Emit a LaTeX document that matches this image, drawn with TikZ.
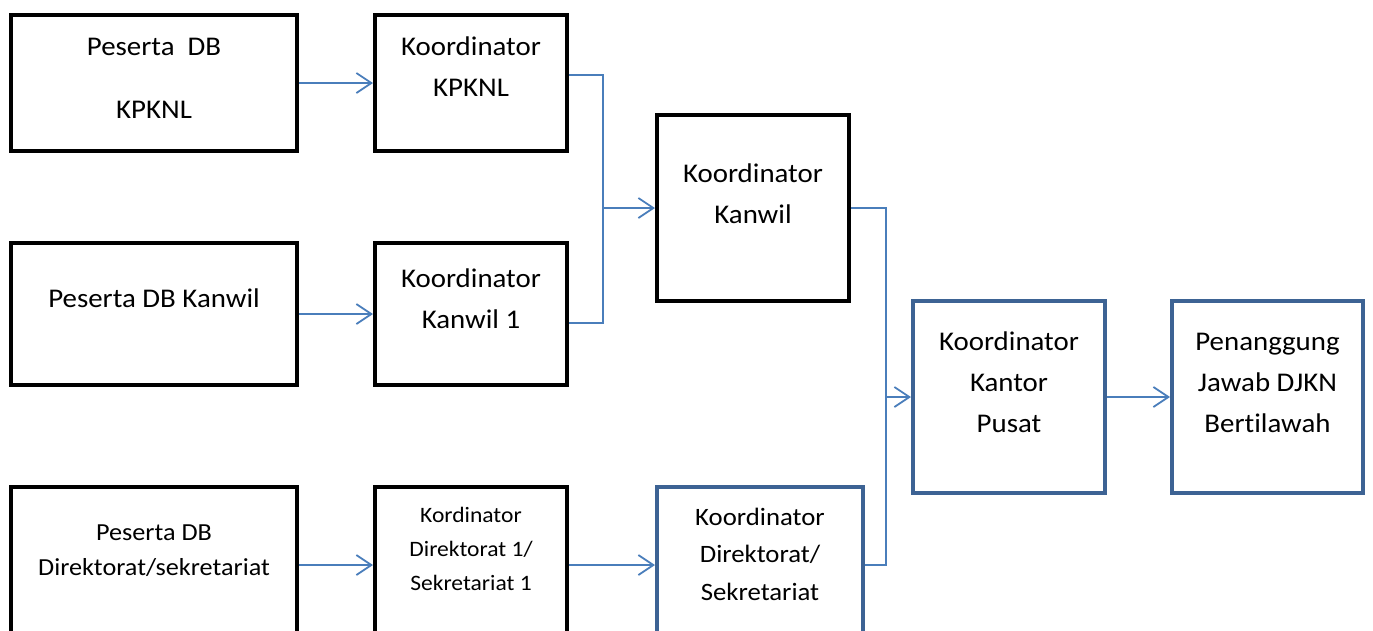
\documentclass[tikz,border=0pt]{standalone}
\usepackage{fontspec}
\setmainfont{Carlito}[FakeStretch=1.07, Ligatures=NoCommon]
\usetikzlibrary{arrows.meta,calc}
\definecolor{linkblue}{HTML}{4A7EBB}
\definecolor{boxblue}{HTML}{3D6394}
\begin{document}
\begin{tikzpicture}[x=1pt,y=-1pt,
  box/.style={draw=black, line width=4.3pt, inner sep=0pt, fill=white},
  bbox/.style={box, draw=boxblue},
  txt/.style={anchor=north, inner sep=0pt, align=center, text=black},
  big/.style={font=\fontsize{27}{41}\selectfont},
  conn/.style={draw=linkblue, line width=1.8pt},
  arr/.style={conn, -{Straight Barb[length=15pt,width=20pt]}}]
\useasboundingbox (0,0) rectangle (1373,630);
\clip (0,0) rectangle (1373,630);
\fill[white] (0,0) rectangle (1373,630);
% boxes
\node[box, minimum width=285.7pt, minimum height=135.7pt] (A) at (154,83) {};
\node[box, minimum width=191.7pt, minimum height=135.7pt] (B) at (471,83) {};
\node[box, minimum width=191.7pt, minimum height=185.7pt] (C) at (753,208) {};
\node[box, minimum width=285.7pt, minimum height=141.7pt] (D) at (154,314) {};
\node[box, minimum width=191.7pt, minimum height=141.7pt] (E) at (471,314) {};
\node[box, minimum width=285.7pt, minimum height=155.7pt] (F) at (154,565) {};
\node[box, minimum width=191.7pt, minimum height=155.7pt] (G) at (471,565) {};
\node[bbox, minimum width=205.7pt, minimum height=155.7pt] (H) at (760,565) {};
\node[bbox, minimum width=191.7pt, minimum height=191.7pt] (I) at (1009,397) {};
\node[bbox, minimum width=190.7pt, minimum height=191.7pt] (J) at (1267.5,397) {};
% texts
\node[txt, big] (At) at (154,30.7) {\rule{0pt}{24.3pt}Peserta~\ DB\\[22pt]KPKNL};
\node[txt, big] (Bt) at (471,30.7) {\rule{0pt}{24.3pt}Koordinator\\KPKNL};
\node[txt, big] (Ct) at (753,157.7) {\rule{0pt}{24.3pt}Koordinator\\Kanwil};
\node[txt, big] (Dt) at (154,282.7) {\rule{0pt}{24.3pt}Peserta DB Kanwil};
\node[txt, big] (Et) at (471,262.7) {\rule{0pt}{24.3pt}Koordinator\\Kanwil 1};
\node[txt, font=\fontsize{24.5}{35}\selectfont] (Ft) at (154,518) {\rule{0pt}{22pt}Peserta DB\\Direktorat/sekretariat};
\node[txt, font=\fontsize{22}{34}\selectfont] (Gt) at (471,502) {\rule{0pt}{20pt}Kordinator\\Direktorat 1/\\Sekretariat 1};
\node[txt, font=\fontsize{25}{37.5}\selectfont] (Ht) at (760,502.5) {\rule{0pt}{22.5pt}Koordinator\\Direktorat/\\Sekretariat};
\node[txt, big] (It) at (1009,325.7) {\rule{0pt}{24.3pt}Koordinator\\Kantor\\Pusat};
\node[txt, big] (Jt) at (1267.5,325.7) {\rule{0pt}{24.3pt}Penanggung\\Jawab DJKN\\Bertilawah};
% junctions
\coordinate (j1) at (603,208);
\coordinate (j2) at (886,397);
% connectors
\draw[arr] (A.east) -- (B.west);
\draw[arr] (D.east) -- (E.west);
\draw[arr] (F.east) -- (G.west);
\draw[arr] (G.east) -- (H.west);
\draw[arr] (I.east) -- (J.west);
\draw[conn] ($(B.east)+(0,-8)$) -| (j1) |- ($(E.east)+(0,9)$);
\draw[arr] (j1) -- (C.west);
\draw[conn] (C.east) -| (j2) |- (H.east);
\draw[arr] (j2) -- (I.west);
\end{tikzpicture}
\end{document}
